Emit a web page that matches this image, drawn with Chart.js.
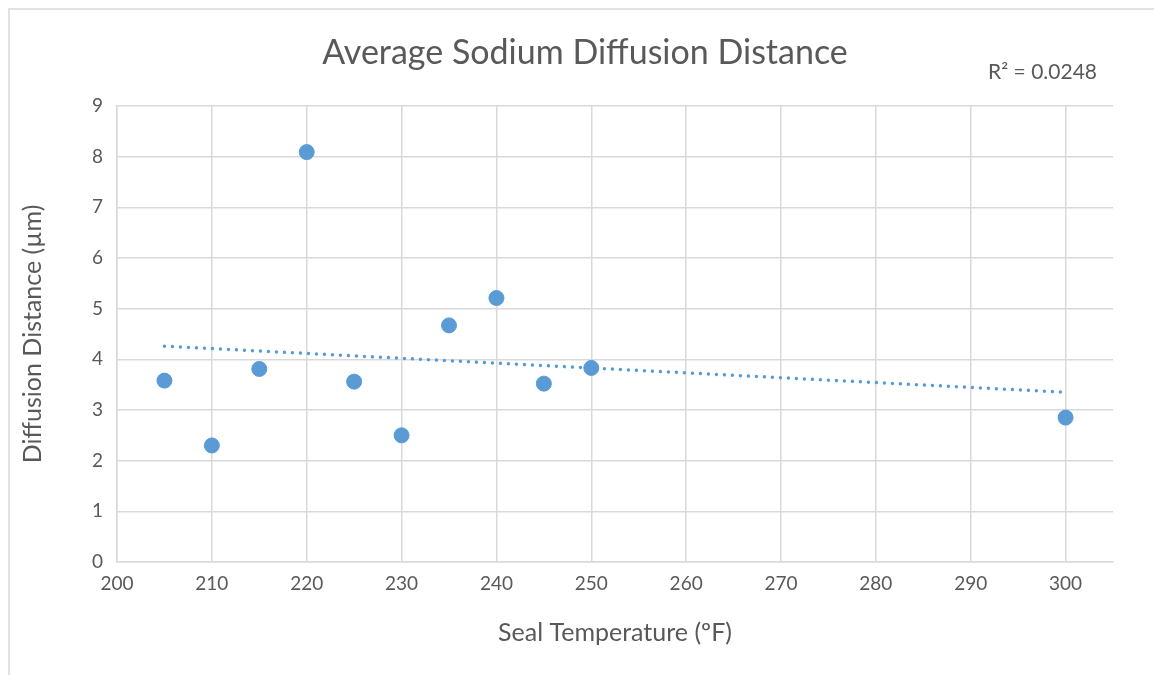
<!DOCTYPE html>
<html lang="en">
<head>
    <meta charset="UTF-8">
    <title>Average Sodium Diffusion Distance</title>
    <script src="https://cdn.jsdelivr.net/npm/chart.js"></script>
    <style>
        body {
            margin: 0;
            padding: 0;
            background: #fff;
        }
        .chart-container {
            width: 1154px;
            height: 675px;
        }
    </style>
</head>
<body>
    <div class="chart-container">
        <canvas id="diffusionChart"></canvas>
    </div>

    <script>
        // Data
        const temps = [205, 210, 215, 220, 225, 230, 235, 240, 245, 250, 300];
        const distances = [3.58, 2.30, 3.81, 8.09, 3.56, 2.50, 4.67, 5.21, 3.52, 3.83, 2.85];
        const trendX = [205, 300];
        const trendY = [4.26, 3.35];
        const xTickValues = [200, 210, 220, 230, 240, 250, 260, 270, 280, 290, 300];
        const yTickValues = [0, 1, 2, 3, 4, 5, 6, 7, 8, 9];
        const rSquaredText = 'R² = 0.0248';

        const textColor = '#595959';
        const gridColor = '#d9d9d9';
        const blue = '#5b9bd5';
        const fontFamily = 'Lato, "Open Sans", sans-serif';

        // frame, title and R² label, drawn like the Excel chart
        const excelExtras = {
            id: 'excelExtras',
            beforeDraw(chart) {
                const c = chart.ctx;
                c.save();
                c.fillStyle = '#fff';
                c.fillRect(0, 0, chart.width, chart.height);
                c.strokeStyle = gridColor;
                c.lineWidth = 1.5;
                c.strokeRect(9, 9, chart.width + 20, chart.height + 20);
                c.restore();
            },
            afterDraw(chart) {
                const c = chart.ctx;
                const area = chart.chartArea;
                c.save();
                c.fillStyle = textColor;
                c.textBaseline = 'middle';
                c.textAlign = 'center';
                c.font = '34px ' + fontFamily;
                c.fillText('Average Sodium Diffusion Distance', 585, 53);
                c.textAlign = 'right';
                c.font = '21px ' + fontFamily;
                c.fillText(rSquaredText, area.right - 16, 72);
                c.restore();
            }
        };

        const ctx = document.getElementById('diffusionChart').getContext('2d');
        const diffusionChart = new Chart(ctx, {
            type: 'scatter',
            data: {
                datasets: [
                    {
                        label: 'Diffusion distance',
                        data: temps.map((t, i) => ({ x: t, y: distances[i] })),
                        backgroundColor: blue,
                        borderColor: blue,
                        pointRadius: 7.5,
                        pointHoverRadius: 7.5,
                        order: 1
                    },
                    {
                        label: 'Linear trend',
                        type: 'line',
                        data: trendX.map((t, i) => ({ x: t, y: trendY[i] })),
                        borderColor: blue,
                        borderWidth: 3.5,
                        borderDash: [0.01, 8],
                        borderCapStyle: 'round',
                        pointRadius: 0,
                        fill: false,
                        order: 2
                    }
                ]
            },
            options: {
                responsive: true,
                maintainAspectRatio: false,
                animation: false,
                layout: {
                    padding: { top: 106, right: 41, left: 0, bottom: 0 }
                },
                plugins: {
                    legend: { display: false },
                    title: { display: false },
                    tooltip: { enabled: false }
                },
                scales: {
                    x: {
                        type: 'linear',
                        min: 200,
                        max: 305,
                        afterBuildTicks: axis => {
                            axis.ticks = xTickValues.map(v => ({ value: v }));
                        },
                        afterFit: axis => { axis.height = 113; },
                        grid: { color: gridColor, lineWidth: 1.5, drawTicks: false },
                        border: { color: gridColor, width: 1.5 },
                        ticks: {
                            color: textColor,
                            padding: 10,
                            font: { family: fontFamily, size: 19 }
                        },
                        title: {
                            display: true,
                            text: 'Seal Temperature (ºF)',
                            color: textColor,
                            font: { family: fontFamily, size: 25 },
                            padding: { top: 8, bottom: 27 }
                        }
                    },
                    y: {
                        min: 0,
                        max: 9,
                        afterBuildTicks: axis => {
                            axis.ticks = yTickValues.map(v => ({ value: v }));
                        },
                        afterFit: axis => { axis.width = 117; },
                        grid: { color: gridColor, lineWidth: 1.5, drawTicks: false },
                        border: { color: gridColor, width: 1.5 },
                        ticks: {
                            color: textColor,
                            padding: 14,
                            font: { family: fontFamily, size: 19 }
                        },
                        title: {
                            display: true,
                            text: 'Diffusion Distance (µm)',
                            color: textColor,
                            font: { family: fontFamily, size: 25 },
                            padding: { top: 18, bottom: 0 }
                        }
                    }
                }
            },
            plugins: [excelExtras]
        });
    </script>
</body>
</html>
